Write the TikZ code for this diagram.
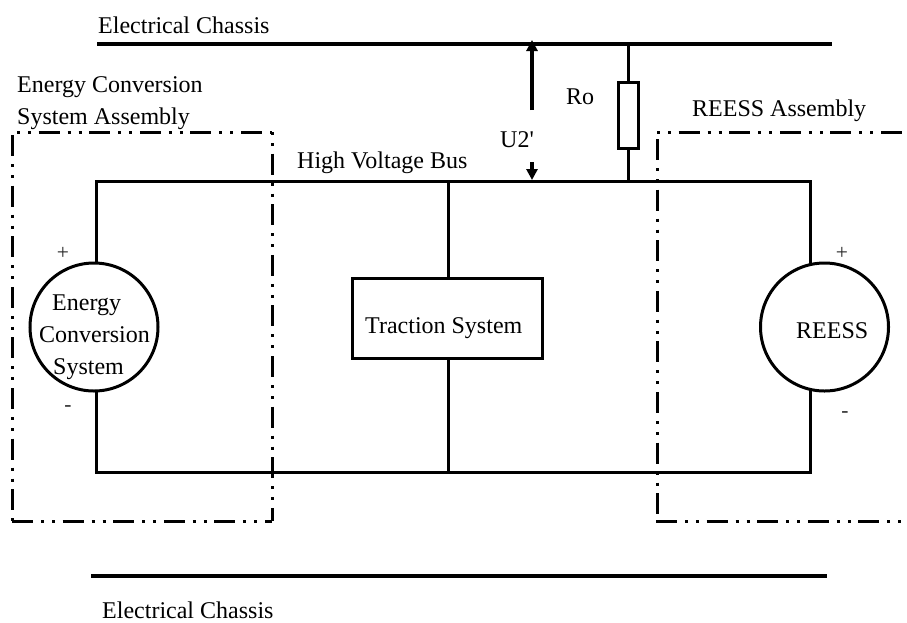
\documentclass[tikz,border=0pt]{standalone}
\usepackage{fontspec}
\setmainfont{Liberation Serif}
\usetikzlibrary{arrows.meta}
\tikzset{
  wire/.style={line width=3pt,black,line join=miter},
  chassis/.style={line width=4.4pt,black},
  partbox/.style={draw,line width=3pt,fill=white,inner sep=0pt,rectangle},
  source/.style={draw,line width=3pt,circle,inner sep=0pt,minimum size=128pt},
  assembly/.style={line width=3pt,black,dash pattern=on 21pt off 8pt on 3pt off 8pt on 3pt off 7.6pt},
  assemblydots/.style={assembly,dash phase=29pt},
  txt/.style={anchor=base west,inner sep=0pt,font=\fontsize{24}{26}\selectfont},
  sign/.style={anchor=center,inner sep=0pt,text=black!85,font=\fontsize{21.5}{23}\selectfont},
  upvolt/.style={line width=3.8pt,-{Triangle[length=11pt,width=11pt]}},
  downvolt/.style={line width=3.4pt,-{Triangle[length=11pt,width=11pt]}}
}
\begin{document}
\begin{tikzpicture}[x=1pt,y=-1pt]
\useasboundingbox (0,0) rectangle (907,622);
\fill[white] (0,0) rectangle (907,622);
% named points
\coordinate (chTopL) at (97,44);
\coordinate (chTopR) at (832,44);
\coordinate (chBotL) at (91,576);
\coordinate (chBotR) at (827,576);
\coordinate (busTL) at (96,181);
\coordinate (busTR) at (810,181);
\coordinate (busBL) at (96,472);
\coordinate (busBR) at (810,472);
\coordinate (busMidT) at (448,181);
\coordinate (busMidB) at (448,472);
\coordinate (busRo) at (628,181);
\coordinate (chRo) at (628,44);
\coordinate (uTopTip) at (532,40);
\coordinate (uTopTail) at (532,110);
\coordinate (uBotTip) at (532,180);
\coordinate (uBotTail) at (532,162);
\coordinate (ecsTop) at (96,263);
\coordinate (ecsBot) at (96,391);
\coordinate (reessTop) at (810,265);
\coordinate (reessBot) at (810,389);
% assembly outlines
\coordinate (aTLa) at (17,132);
\coordinate (aTRa) at (272,132);
\coordinate (aLa) at (12,135);
\coordinate (aBLa) at (12,521);
\coordinate (aBRa) at (272,521);
\coordinate (bTLa) at (657,132);
\coordinate (bTRa) at (907,132);
\coordinate (bLa) at (657,139);
\coordinate (bLb) at (657,521);
\coordinate (bBLa) at (656,521);
\coordinate (bBRa) at (907,521);
\draw[assemblydots] (aTLa) -- (aTRa);
\draw[assemblydots] (aTRa) -- (aBRa);
\draw[assembly] (aLa) -- (aBLa);
\draw[assembly] (aBLa) -- (aBRa);
\draw[assemblydots] (bTLa) -- (bTRa);
\draw[assembly] (bLa) -- (bLb);
\draw[assembly] (bBLa) -- (bBRa);
% parts
\node[source] (ecs) at (94,327) {};
\node[source] (reess) at (824.5,327) {};
\node[partbox,minimum width=190pt,minimum height=80pt] (traction) at (447,318) {};
\node[partbox,minimum width=20pt,minimum height=66pt] (ro) at (628,115) {};
% chassis bars
\draw[chassis] (chTopL) -- (chTopR);
\draw[chassis] (chBotL) -- (chBotR);
% bus
\draw[wire] (ecsTop) -- (busTL) -- (busTR) -- (reessTop);
\draw[wire] (ecsBot) -- (busBL) -- (busBR) -- (reessBot);
\draw[wire] (busMidT) -- (traction.north -| busMidT);
\draw[wire] (traction.south -| busMidB) -- (busMidB);
\draw[wire] (chRo) -- (ro.north);
\draw[wire] (ro.south) -- (busRo);
% voltage arrows
\draw[upvolt] (uTopTail) -- (uTopTip);
\draw[downvolt] (uBotTail) -- (uBotTip);
% labels
\node[txt] (t1) at (98,33) {Electrical Chassis};
\node[txt] (t2) at (102,618) {Electrical Chassis};
\node[txt] (t3) at (17,92) {Energy Conversion};
\node[txt] (t4) at (17,124) {System Assembly};
\node[txt] (t5) at (692,116) {REESS Assembly};
\node[txt] (t6) at (297,168) {High Voltage Bus};
\node[txt] (t7) at (500,147) {U2\textquotesingle};
\node[txt] (t8) at (566,104) {Ro};
\node[txt] (t9) at (365,333) {Traction System};
\node[txt] (t10) at (52,310) {Energy};
\node[txt] (t11) at (39,342) {Conversion};
\node[txt] (t12) at (53,374) {System};
\node[txt] (t13) at (796,338) {REESS};
\node[sign] (p1) at (63,253) {+};
\node[sign] (m1) at (68,409) {-};
\node[sign] (p2) at (842,253) {+};
\node[sign] (m2) at (845,415) {-};
\end{tikzpicture}
\end{document}
